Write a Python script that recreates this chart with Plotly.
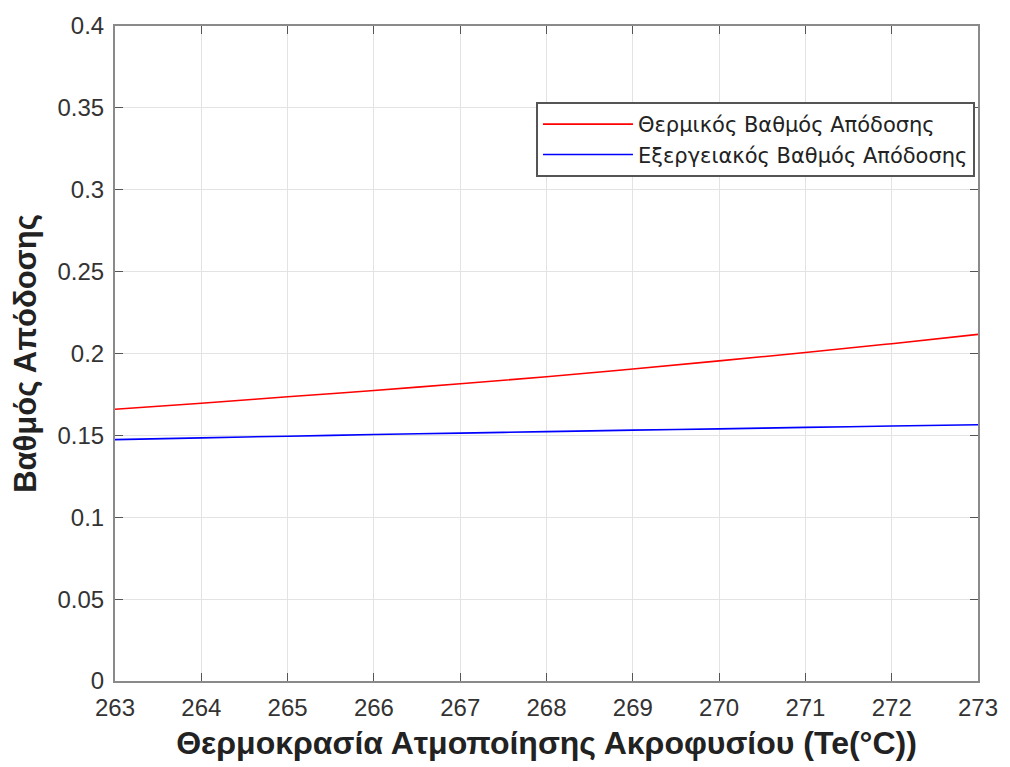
import plotly.graph_objects as go

# Evaporator temperature (x axis)
temperature = [263, 264, 265, 266, 267, 268, 269, 270, 271, 272, 273]

# Efficiency curves
thermal_eff = [0.1660, 0.1696, 0.1736, 0.1774, 0.1815, 0.1858, 0.1905, 0.1955, 0.2006, 0.2060, 0.2117]
exergy_eff = [0.1474, 0.1485, 0.1495, 0.1505, 0.1514, 0.1523, 0.1532, 0.1540, 0.1549, 0.1557, 0.1565]

x_ticks = list(range(263, 274))
y_ticks = [0, 0.05, 0.1, 0.15, 0.2, 0.25, 0.3, 0.35, 0.4]
y_tick_text = ["0", "0.05", "0.1", "0.15", "0.2", "0.25", "0.3", "0.35", "0.4"]

fig = go.Figure()
fig.add_trace(go.Scatter(
    x=temperature, y=thermal_eff, mode="lines",
    name="Θερμικός Βαθμός Απόδοσης",
    line=dict(color="#FF0000", width=1.6, shape="spline"),
))
fig.add_trace(go.Scatter(
    x=temperature, y=exergy_eff, mode="lines",
    name="Εξεργειακός Βαθμός Απόδοσης",
    line=dict(color="#0000FF", width=1.6, shape="spline"),
))

axis_common = dict(
    showline=True, linecolor="#8a8a8a", linewidth=2, mirror="ticks",
    ticks="inside", ticklen=8, tickcolor="#555555", tickwidth=1,
    showgrid=True, gridcolor="#e3e3e3", gridwidth=1,
    zeroline=False,
    tickfont=dict(family="Liberation Sans, Arial", size=24, color="#333333"),
)

fig.update_xaxes(
    range=[263, 273], tickvals=x_ticks,
    title=dict(text="<b>Θερμοκρασία Ατμοποίησης Ακροφυσίου (Te(°C))</b>",
               font=dict(family="Liberation Sans, Arial", size=32, color="#222222"), standoff=12),
    ticklabelstandoff=4,
    **axis_common,
)
fig.update_yaxes(
    range=[0, 0.4], tickvals=y_ticks, ticktext=y_tick_text,
    title=dict(text="<b>Βαθμός Απόδοσης</b>",
               font=dict(family="Liberation Sans, Arial", size=31, color="#222222"), standoff=12),
    ticklabelstandoff=4,
    **axis_common,
)

fig.update_layout(
    width=1010, height=767,
    margin=dict(l=115, r=32, t=16, b=86),
    paper_bgcolor="white", plot_bgcolor="white",
    showlegend=True,
    legend=dict(
        x=0.9965, y=0.884, xanchor="right", yanchor="top",
        bgcolor="white", bordercolor="#555555", borderwidth=2,
        font=dict(family="DejaVu Sans, Liberation Sans, Arial", size=21, color="#222222"),
        itemwidth=90, tracegroupgap=0,
    ),
)

fig.write_html("out.html")
